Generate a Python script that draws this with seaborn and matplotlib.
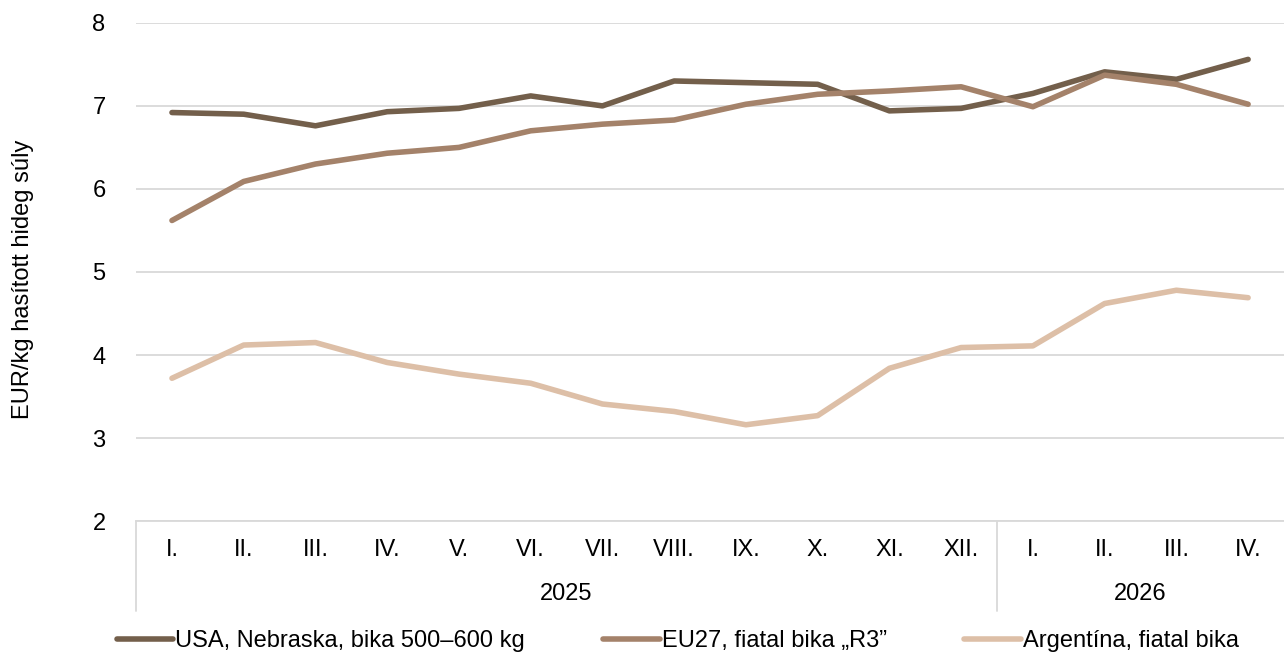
import pandas as pd
import matplotlib.pyplot as plt
import matplotlib.transforms as mtransforms
import seaborn as sns

months = ["I.", "II.", "III.", "IV.", "V.", "VI.", "VII.", "VIII.", "IX.", "X.", "XI.", "XII.",
          "I.", "II.", "III.", "IV."]
years = ["2025", "2026"]
year_len = [12, 4]

usa = [6.92, 6.90, 6.76, 6.93, 6.97, 7.12, 7.00, 7.30, 7.28, 7.26, 6.94, 6.97, 7.15, 7.41, 7.32, 7.56]
eu27 = [5.62, 6.09, 6.30, 6.43, 6.50, 6.70, 6.78, 6.83, 7.02, 7.14, 7.18, 7.23, 6.99, 7.37, 7.26, 7.02]
argentina = [3.72, 4.12, 4.15, 3.91, 3.77, 3.66, 3.41, 3.32, 3.16, 3.27, 3.84, 4.09, 4.11, 4.62, 4.78, 4.69]

series_names = ["USA, Nebraska, bika 500–600 kg", "EU27, fiatal bika „R3”", "Argentína, fiatal bika"]
colors = ["#735F4B", "#A4826A", "#DDBFA7"]

df = pd.concat([
    pd.DataFrame({"x": range(len(months)), "value": vals, "series": name})
    for name, vals in zip(series_names, [usa, eu27, argentina])
])

sns.set_style("white")
plt.rcParams['font.family'] = ['Liberation Sans', 'DejaVu Sans']
plt.rcParams['text.color'] = 'black'
plt.rcParams['axes.labelcolor'] = 'black'
plt.rcParams['ytick.color'] = 'black'

fs = 17
fig = plt.figure(figsize=(12.84, 6.53), dpi=100)
ax = fig.add_axes([0.106, 0.202, 0.894, 0.763])

sns.lineplot(data=df, x="x", y="value", hue="series", palette=colors, linewidth=4,
             ax=ax, legend=True)

ax.set_xlim(-0.5, len(months) - 0.5)
ax.set_ylim(2, 8)
ax.set_yticks(range(2, 9))
ax.tick_params(axis="y", labelsize=fs, length=0, pad=22)
ax.grid(axis="y", color="#D9D9D9", linewidth=1.3)
ax.set_axisbelow(True)
ax.set_xticks([])
ax.set_xlabel("")
ax.set_ylabel("EUR/kg hasított hideg súly", fontsize=fs)
ax.yaxis.set_label_coords(-0.089, 0.486)
sns.despine(ax=ax, left=True, right=True, top=True, bottom=False)
ax.spines["bottom"].set_color("#D9D9D9")
ax.spines["bottom"].set_linewidth(1.3)

# two-level category axis
trans = mtransforms.blended_transform_factory(ax.transData, ax.transAxes)
for i, m in enumerate(months):
    ax.text(i, -0.058, m, transform=trans, ha="center", va="center", fontsize=fs)
start = 0
bounds = [-0.5]
for y, n in zip(years, year_len):
    ax.text(start + (n - 1) / 2, -0.147, y, transform=trans, ha="center", va="center", fontsize=fs)
    start += n
    bounds.append(start - 0.5)
for b in bounds[:-1]:
    ax.plot([b, b], [0, -0.18], transform=trans, color="#D9D9D9", linewidth=1.3, clip_on=False)

leg = ax.legend(loc="center", bbox_to_anchor=(0.472, -0.241), ncol=3, frameon=False,
                fontsize=fs, handlelength=2.4, handletextpad=0.08, columnspacing=3.3)
for line in leg.get_lines():
    line.set_linewidth(4)

fig.savefig("out.png", dpi=100)
